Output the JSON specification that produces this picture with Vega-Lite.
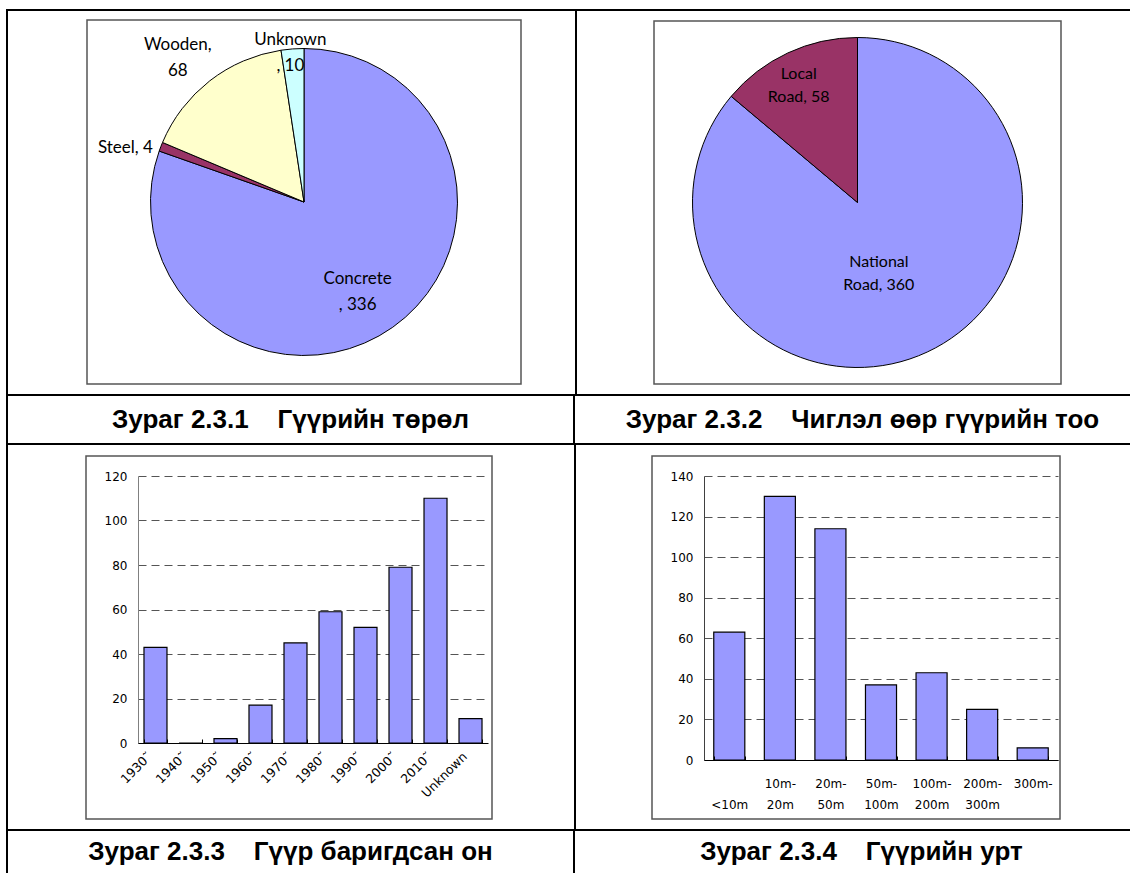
{
  "$schema": "https://vega.github.io/schema/vega-lite/v6.json",
  "padding": {"left": 6, "top": 9, "right": 0, "bottom": 0},
  "background": "white",
  "config": {"view": {"stroke": null}, "concat": {"spacing": 0}, "font": "DejaVu Sans"},
  "spacing": 0,
  "vconcat": [
    {"width": 1124, "height": 2, "data": {"values": []}, "mark": {"type": "text", "text": ""}, "view": {"fill": "black", "stroke": null}},
    {
      "spacing": 0,
      "hconcat": [
        {"width": 2, "height": 383, "data": {"values": []}, "mark": {"type": "text", "text": ""}, "view": {"fill": "black", "stroke": null}},
        {
          "spacing": 0,
          "hconcat": [
            {"width": 78, "height": 383, "data": {"values": []}, "mark": {"type": "text", "text": ""}},
            {
              "spacing": 0,
              "bounds": "flush",
              "vconcat": [
                {"width": 434, "height": 9, "data": {"values": []}, "mark": {"type": "text", "text": ""}},
                {
                  "width": 434, "height": 364,
                  "view": {"stroke": "#555555", "strokeWidth": 1.5},
                  "data": {"values": [
                    {"type": "Concrete", "count": 336, "i": 1, "label": "Concrete\n, 336"},
                    {"type": "Steel", "count": 4, "i": 2, "label": "Steel, 4"},
                    {"type": "Wooden", "count": 68, "i": 3, "label": "Wooden,\n68"},
                    {"type": "Unknown", "count": 10, "i": 4, "label": "Unknown\n, 10"}
                  ]},
                  "layer": [
                    {
                      "mark": {"type": "arc", "radius": 153.5, "stroke": "black", "strokeWidth": 1},
                      "encoding": {
                        "theta": {"field": "count", "type": "quantitative", "stack": true},
                        "order": {"field": "i", "type": "quantitative"},
                        "color": {"field": "type", "type": "nominal", "legend": null,
                          "scale": {"domain": ["Concrete", "Steel", "Wooden", "Unknown"], "range": ["#9999FF", "#993366", "#FFFFCC", "#CCFFFF"]}}
                      }
                    },
                    {
                      "mark": {"type": "text", "radius": 98, "dx": -3, "dy": -3, "font": "Lato", "lineHeight": 26, "lineBreak": "\n", "color": "black", "align": "center", "baseline": "middle"},
                      "encoding": {
                        "theta": {"field": "count", "type": "quantitative", "stack": true},
                        "order": {"field": "i", "type": "quantitative"},
                        "size": {"condition": {"test": "datum.type === 'Concrete'", "value": 17}, "value": 0},
                        "text": {"condition": {"test": "datum.type === 'Concrete'", "field": "label", "type": "nominal"}, "value": ""}
                      }
                    },
                    {
                      "mark": {"type": "text", "radius": 185, "dx": -6, "dy": 13, "font": "Lato", "lineHeight": 26, "lineBreak": "\n", "color": "black", "align": "center", "baseline": "middle"},
                      "encoding": {
                        "theta": {"field": "count", "type": "quantitative", "stack": true},
                        "order": {"field": "i", "type": "quantitative"},
                        "size": {"condition": {"test": "datum.type === 'Steel'", "value": 17}, "value": 0},
                        "text": {"condition": {"test": "datum.type === 'Steel'", "field": "label", "type": "nominal"}, "value": ""}
                      }
                    },
                    {
                      "mark": {"type": "text", "radius": 155, "dx": -31, "dy": -35, "font": "Lato", "lineHeight": 26, "lineBreak": "\n", "color": "black", "align": "center", "baseline": "middle"},
                      "encoding": {
                        "theta": {"field": "count", "type": "quantitative", "stack": true},
                        "order": {"field": "i", "type": "quantitative"},
                        "size": {"condition": {"test": "datum.type === 'Wooden'", "value": 17}, "value": 0},
                        "text": {"condition": {"test": "datum.type === 'Wooden'", "field": "label", "type": "nominal"}, "value": ""}
                      }
                    },
                    {
                      "mark": {"type": "text", "radius": 155, "dx": -2, "dy": -7, "font": "Lato", "lineHeight": 26, "lineBreak": "\n", "color": "black", "align": "center", "baseline": "middle"},
                      "encoding": {
                        "theta": {"field": "count", "type": "quantitative", "stack": true},
                        "order": {"field": "i", "type": "quantitative"},
                        "size": {"condition": {"test": "datum.type === 'Unknown'", "value": 17}, "value": 0},
                        "text": {"condition": {"test": "datum.type === 'Unknown'", "field": "label", "type": "nominal"}, "value": ""}
                      }
                    }
                  ]
                },
                {"width": 434, "height": 10, "data": {"values": []}, "mark": {"type": "text", "text": ""}}
              ]
            },
            {"width": 53, "height": 383, "data": {"values": []}, "mark": {"type": "text", "text": ""}}
          ]
        },
        {"width": 2, "height": 383, "data": {"values": []}, "mark": {"type": "text", "text": ""}, "view": {"fill": "black", "stroke": null}},
        {
          "spacing": 0,
          "hconcat": [
            {"width": 76, "height": 383, "data": {"values": []}, "mark": {"type": "text", "text": ""}},
            {
              "spacing": 0,
              "bounds": "flush",
              "vconcat": [
                {"width": 407, "height": 10, "data": {"values": []}, "mark": {"type": "text", "text": ""}},
                {
                  "width": 407, "height": 363,
                  "view": {"stroke": "#555555", "strokeWidth": 1.5},
                  "data": {"values": [
                    {"type": "National Road", "count": 360, "i": 1, "label": "National\nRoad, 360"},
                    {"type": "Local Road", "count": 58, "i": 2, "label": "Local\nRoad, 58"}
                  ]},
                  "layer": [
                    {
                      "mark": {"type": "arc", "radius": 165, "stroke": "black", "strokeWidth": 1},
                      "encoding": {
                        "theta": {"field": "count", "type": "quantitative", "stack": true},
                        "order": {"field": "i", "type": "quantitative"},
                        "color": {"field": "type", "type": "nominal", "legend": null,
                          "scale": {"domain": ["National Road", "Local Road"], "range": ["#9999FF", "#993366"]}}
                      }
                    },
                    {
                      "mark": {"type": "text", "radius": 79, "dx": -12, "dy": -12, "font": "Lato", "lineHeight": 23, "lineBreak": "\n", "color": "black", "align": "center", "baseline": "middle"},
                      "encoding": {
                        "theta": {"field": "count", "type": "quantitative", "stack": true},
                        "order": {"field": "i", "type": "quantitative"},
                        "size": {"condition": {"test": "datum.type === 'National Road'", "value": 16}, "value": 0},
                        "text": {"condition": {"test": "datum.type === 'National Road'", "field": "label", "type": "nominal"}, "value": ""}
                      }
                    },
                    {
                      "mark": {"type": "text", "radius": 125, "dx": -6, "dy": -15, "font": "Lato", "lineHeight": 23, "lineBreak": "\n", "color": "black", "align": "center", "baseline": "middle"},
                      "encoding": {
                        "theta": {"field": "count", "type": "quantitative", "stack": true},
                        "order": {"field": "i", "type": "quantitative"},
                        "size": {"condition": {"test": "datum.type === 'Local Road'", "value": 16}, "value": 0},
                        "text": {"condition": {"test": "datum.type === 'Local Road'", "field": "label", "type": "nominal"}, "value": ""}
                      }
                    }
                  ]
                },
                {"width": 407, "height": 10, "data": {"values": []}, "mark": {"type": "text", "text": ""}}
              ]
            },
            {"width": 72, "height": 383, "data": {"values": []}, "mark": {"type": "text", "text": ""}}
          ]
        }
      ]
    },
    {"width": 1124, "height": 2, "data": {"values": []}, "mark": {"type": "text", "text": ""}, "view": {"fill": "black", "stroke": null}},
    {
      "spacing": 0,
      "hconcat": [
        {"width": 2, "height": 47, "data": {"values": []}, "mark": {"type": "text", "text": ""}, "view": {"fill": "black", "stroke": null}},
        {"width": 565, "height": 47, "data": {"values": [{}]}, "mark": {"type": "text", "text": "Зураг 2.3.1\u00a0\u00a0\u00a0 Гүүрийн төрөл", "font": "Liberation Sans", "fontWeight": "bold", "fontSize": 26, "color": "black", "align": "center", "baseline": "middle"}},
        {"width": 2, "height": 47, "data": {"values": []}, "mark": {"type": "text", "text": ""}, "view": {"fill": "black", "stroke": null}},
        {"width": 555, "height": 47, "data": {"values": [{}]}, "mark": {"type": "text", "text": "Зураг 2.3.2\u00a0\u00a0\u00a0 Чиглэл өөр гүүрийн тоо", "dx": 10, "font": "Liberation Sans", "fontWeight": "bold", "fontSize": 26, "color": "black", "align": "center", "baseline": "middle"}}
      ]
    },
    {"width": 1124, "height": 2, "data": {"values": []}, "mark": {"type": "text", "text": ""}, "view": {"fill": "black", "stroke": null}},
    {
      "spacing": 0,
      "hconcat": [
        {"width": 2, "height": 384, "data": {"values": []}, "mark": {"type": "text", "text": ""}, "view": {"fill": "black", "stroke": null}},
        {
          "spacing": 0,
          "hconcat": [
            {"width": 73, "height": 384, "data": {"values": []}, "mark": {"type": "text", "text": ""}},
            {
              "spacing": 0,
              "bounds": "flush",
              "vconcat": [
                {"width": 406, "height": 11, "data": {"values": []}, "mark": {"type": "text", "text": ""}},
                {
                  "width": 406, "height": 363,
                  "view": {"stroke": "#555555", "strokeWidth": 1.5},
                  "data": {"values": [
                    {"decade": "1930˜", "count": 43},
                    {"decade": "1940˜", "count": 0},
                    {"decade": "1950˜", "count": 2},
                    {"decade": "1960˜", "count": 17},
                    {"decade": "1970˜", "count": 45},
                    {"decade": "1980˜", "count": 59},
                    {"decade": "1990˜", "count": 52},
                    {"decade": "2000˜", "count": 79},
                    {"decade": "2010˜", "count": 110},
                    {"decade": "Unknown", "count": 11}
                  ]},
                  "mark": {"type": "bar", "fill": "#9999FF", "stroke": "black", "strokeWidth": 1.2},
                  "encoding": {
                    "x": {"field": "decade", "type": "nominal", "sort": null,
                      "scale": {"range": [52, 402], "paddingInner": 0.343, "paddingOuter": 0.171},
                      "axis": {"title": null, "offset": -76, "zindex": 1, "domainColor": "black", "domainWidth": 1, "tickBand": "extent", "tickSize": -4, "tickColor": "black", "labelAngle": -45, "labelAlign": "right", "labelBaseline": "middle", "labelPadding": 15, "labelOffset": -6, "labelFont": "DejaVu Sans", "labelFontSize": 12.5, "labelColor": "black"}},
                    "y": {"field": "count", "type": "quantitative",
                      "scale": {"domain": [0, 120], "range": [287, 20], "nice": false},
                      "axis": {"title": null, "values": [0, 20, 40, 60, 80, 100, 120], "offset": -52, "domainColor": "#808080", "ticks": false, "labelPadding": 11, "labelFont": "DejaVu Sans", "labelFontSize": 12, "labelColor": "black", "grid": true, "gridDash": [8, 5], "gridColor": "#555555", "gridWidth": 1}}
                  }
                },
                {"width": 406, "height": 10, "data": {"values": []}, "mark": {"type": "text", "text": ""}}
              ]
            },
            {"width": 81, "height": 384, "data": {"values": []}, "mark": {"type": "text", "text": ""}}
          ]
        },
        {"width": 2, "height": 384, "data": {"values": []}, "mark": {"type": "text", "text": ""}, "view": {"fill": "black", "stroke": null}},
        {
          "spacing": 0,
          "hconcat": [
            {"width": 75, "height": 384, "data": {"values": []}, "mark": {"type": "text", "text": ""}},
            {
              "spacing": 0,
              "bounds": "flush",
              "vconcat": [
                {"width": 408, "height": 11, "data": {"values": []}, "mark": {"type": "text", "text": ""}},
                {
                  "width": 408, "height": 363,
                  "view": {"stroke": "#555555", "strokeWidth": 1.5},
                  "data": {"values": [
                    {"length": "<10m", "count": 63},
                    {"length": "10m-20m", "count": 130},
                    {"length": "20m-50m", "count": 114},
                    {"length": "50m-100m", "count": 37},
                    {"length": "100m-200m", "count": 43},
                    {"length": "200m-300m", "count": 25},
                    {"length": "300m-", "count": 6}
                  ]},
                  "mark": {"type": "bar", "fill": "#9999FF", "stroke": "black", "strokeWidth": 1.2},
                  "encoding": {
                    "x": {"field": "length", "type": "nominal", "sort": null,
                      "scale": {"range": [52, 406], "paddingInner": 0.386, "paddingOuter": 0.193},
                      "axis": {"title": null, "offset": -59, "zindex": 1, "domainColor": "black", "domainWidth": 1, "tickBand": "extent", "tickSize": -4, "tickColor": "black", "labelAngle": 0, "labelAlign": "center", "labelBaseline": "top", "labelPadding": 22, "labelLineHeight": 21, "labelFont": "DejaVu Sans", "labelFontSize": 12, "labelColor": "black",
                        "labelExpr": "datum.label == '<10m' ? [' ', '<10m'] : (datum.label == '300m-' ? ['300m-', ' '] : [slice(datum.label, 0, indexof(datum.label, '-') + 1), slice(datum.label, indexof(datum.label, '-') + 1)])"}},
                    "y": {"field": "count", "type": "quantitative",
                      "scale": {"domain": [0, 140], "range": [304, 20], "nice": false},
                      "axis": {"title": null, "values": [0, 20, 40, 60, 80, 100, 120, 140], "offset": -52, "domainColor": "#404040", "ticks": false, "labelPadding": 11, "labelFont": "DejaVu Sans", "labelFontSize": 12, "labelColor": "black", "grid": true, "gridDash": [8, 5], "gridColor": "#555555", "gridWidth": 1}}
                  }
                },
                {"width": 408, "height": 10, "data": {"values": []}, "mark": {"type": "text", "text": ""}}
              ]
            },
            {"width": 72, "height": 384, "data": {"values": []}, "mark": {"type": "text", "text": ""}}
          ]
        }
      ]
    },
    {"width": 1124, "height": 2, "data": {"values": []}, "mark": {"type": "text", "text": ""}, "view": {"fill": "black", "stroke": null}},
    {
      "spacing": 0,
      "hconcat": [
        {"width": 2, "height": 42, "data": {"values": []}, "mark": {"type": "text", "text": ""}, "view": {"fill": "black", "stroke": null}},
        {"width": 565, "height": 42, "data": {"values": [{}]}, "mark": {"type": "text", "text": "Зураг 2.3.3\u00a0\u00a0\u00a0 Гүүр баригдсан он", "font": "Liberation Sans", "fontWeight": "bold", "fontSize": 26, "color": "black", "align": "center", "baseline": "middle"}},
        {"width": 2, "height": 42, "data": {"values": []}, "mark": {"type": "text", "text": ""}, "view": {"fill": "black", "stroke": null}},
        {"width": 555, "height": 42, "data": {"values": [{}]}, "mark": {"type": "text", "text": "Зураг 2.3.4\u00a0\u00a0\u00a0 Гүүрийн урт", "dx": 9, "font": "Liberation Sans", "fontWeight": "bold", "fontSize": 26, "color": "black", "align": "center", "baseline": "middle"}}
      ]
    }
  ]
}
